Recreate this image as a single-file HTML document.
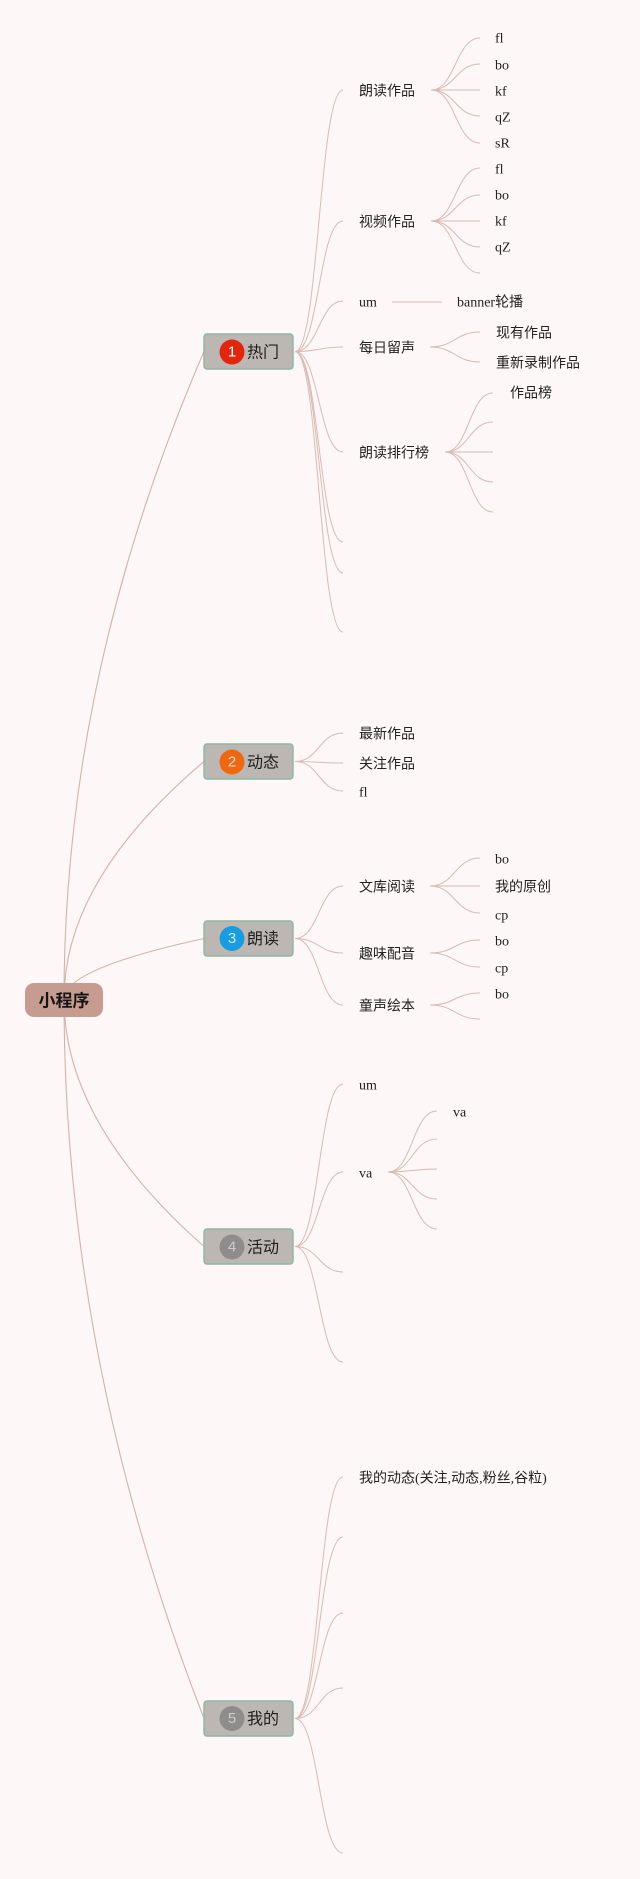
<!DOCTYPE html>
<html><head><meta charset="utf-8">
<style>
html,body{margin:0;padding:0;background:#fdf7f7;}
svg{display:block;}
.l{font-family:"Liberation Serif","Noto Sans CJK SC",serif;font-size:14px;fill:#222;}
.m{font-family:"Liberation Sans","Noto Sans CJK SC",sans-serif;font-size:16px;fill:#1e1e1e;}
.n{font-family:"Liberation Sans",sans-serif;font-size:15px;text-anchor:middle;}
.c{fill:none;stroke:#d8bab4;stroke-width:1;}
.r{fill:none;stroke:#d4b2aa;stroke-width:1.1;}
</style></head>
<body>
<svg width="640" height="1879" viewBox="0 0 640 1879" xmlns="http://www.w3.org/2000/svg">
<rect width="640" height="1879" fill="#fdf7f7"/>

<!-- root connectors -->
<path class="r" d="M64 999 Q64 675 204 351.5"/>
<path class="r" d="M64 999 Q64 880 204 761.5"/>
<path class="r" d="M64 999 Q64 969 204 938.5"/>
<path class="r" d="M64 999 Q64 1123 204 1246.5"/>
<path class="r" d="M64 999 Q64 1359 204 1718.5"/>

<!-- 热门 children -->
<path class="c" d="M295 351.5 C319 351.5 319 90 343 90"/>
<path class="c" d="M295 351.5 C319 351.5 319 221 343 221"/>
<path class="c" d="M295 351.5 C319 351.5 319 301 343 301"/>
<path class="c" d="M295 351.5 C319 351.5 319 347 343 347"/>
<path class="c" d="M295 351.5 C319 351.5 319 452 343 452"/>
<path class="c" d="M295 351.5 C319 351.5 319 542 343 542"/>
<path class="c" d="M295 351.5 C319 351.5 319 573 343 573"/>
<path class="c" d="M295 351.5 C319 351.5 319 632 343 632"/>

<!-- 动态 children -->
<path class="c" d="M295 761.5 C319 761.5 319 733 343 733"/>
<path class="c" d="M295 761.5 C319 761.5 319 763 343 763"/>
<path class="c" d="M295 761.5 C319 761.5 319 791 343 791"/>

<!-- 朗读 children -->
<path class="c" d="M295 938.5 C319 938.5 319 886 343 886"/>
<path class="c" d="M295 938.5 C319 938.5 319 953 343 953"/>
<path class="c" d="M295 938.5 C319 938.5 319 1005 343 1005"/>

<!-- 活动 children -->
<path class="c" d="M295 1246.5 C319 1246.5 319 1084 343 1084"/>
<path class="c" d="M295 1246.5 C319 1246.5 319 1172 343 1172"/>
<path class="c" d="M295 1246.5 C319 1246.5 319 1272 343 1272"/>
<path class="c" d="M295 1246.5 C319 1246.5 319 1362 343 1362"/>

<!-- 我的 children -->
<path class="c" d="M295 1718.5 C319 1718.5 319 1477 343 1477"/>
<path class="c" d="M295 1718.5 C319 1718.5 319 1537 343 1537"/>
<path class="c" d="M295 1718.5 C319 1718.5 319 1613 343 1613"/>
<path class="c" d="M295 1718.5 C319 1718.5 319 1688 343 1688"/>
<path class="c" d="M295 1718.5 C319 1718.5 319 1853 343 1853"/>

<!-- level 3: 朗读作品 -->
<path class="c" d="M431 90 C455.5 90 455.5 38 480 38"/>
<path class="c" d="M431 90 C455.5 90 455.5 64 480 64"/>
<path class="c" d="M431 90 C455.5 90 455.5 90 480 90"/>
<path class="c" d="M431 90 C455.5 90 455.5 116 480 116"/>
<path class="c" d="M431 90 C455.5 90 455.5 143 480 143"/>
<!-- 视频作品 -->
<path class="c" d="M431 221 C455.5 221 455.5 168 480 168"/>
<path class="c" d="M431 221 C455.5 221 455.5 195 480 195"/>
<path class="c" d="M431 221 C455.5 221 455.5 221 480 221"/>
<path class="c" d="M431 221 C455.5 221 455.5 247 480 247"/>
<path class="c" d="M431 221 C455.5 221 455.5 273 480 273"/>
<!-- um -> banner -->
<path class="c" d="M392 302 L442 302"/>
<!-- 每日留声 -->
<path class="c" d="M430 347 C455 347 455 332 480 332"/>
<path class="c" d="M430 347 C455 347 455 362 480 362"/>
<!-- 朗读排行榜 -->
<path class="c" d="M445 452 C469 452 469 393 493 393"/>
<path class="c" d="M445 452 C469 452 469 422 493 422"/>
<path class="c" d="M445 452 C469 452 469 452 493 452"/>
<path class="c" d="M445 452 C469 452 469 482 493 482"/>
<path class="c" d="M445 452 C469 452 469 512 493 512"/>
<!-- 文库阅读 -->
<path class="c" d="M430 886 C455 886 455 858 480 858"/>
<path class="c" d="M430 886 C455 886 455 886 480 886"/>
<path class="c" d="M430 886 C455 886 455 913 480 913"/>
<!-- 趣味配音 -->
<path class="c" d="M430 953 C455 953 455 940 480 940"/>
<path class="c" d="M430 953 C455 953 455 967 480 967"/>
<!-- 童声绘本 -->
<path class="c" d="M430 1005 C455 1005 455 993 480 993"/>
<path class="c" d="M430 1005 C455 1005 455 1019 480 1019"/>
<!-- va -->
<path class="c" d="M388 1172 C412.5 1172 412.5 1111 437 1111"/>
<path class="c" d="M388 1172 C412.5 1172 412.5 1139 437 1139"/>
<path class="c" d="M388 1172 C412.5 1172 412.5 1169 437 1169"/>
<path class="c" d="M388 1172 C412.5 1172 412.5 1199 437 1199"/>
<path class="c" d="M388 1172 C412.5 1172 412.5 1229 437 1229"/>

<!-- root node -->
<rect x="25" y="983" width="78" height="34" rx="9" fill="#c69c91"/>
<text x="64" y="1001" text-anchor="middle" dominant-baseline="central" style="font-family:'Liberation Sans','Noto Sans CJK SC',sans-serif;font-size:17px;font-weight:bold;fill:#151515">小程序</text>

<!-- main nodes -->
<g>
<rect x="204" y="334" width="89" height="35" rx="3" fill="#bdb7b3" stroke="#8fb5a4" stroke-width="1.4"/>
<circle cx="232" cy="352" r="12.5" fill="#e2260e"/>
<text class="n" x="232" y="352" dominant-baseline="central" fill="#ffffff">1</text>
<text class="m" x="247" y="353" dominant-baseline="central">热门</text>
</g>
<g>
<rect x="204" y="744" width="89" height="35" rx="3" fill="#bdb7b3" stroke="#8fb5a4" stroke-width="1.4"/>
<circle cx="232" cy="762" r="12.5" fill="#ee6812"/>
<text class="n" x="232" y="762" dominant-baseline="central" fill="#f6d9c6">2</text>
<text class="m" x="247" y="763" dominant-baseline="central">动态</text>
</g>
<g>
<rect x="204" y="921" width="89" height="35" rx="3" fill="#bdb7b3" stroke="#8fb5a4" stroke-width="1.4"/>
<circle cx="232" cy="938.5" r="12.5" fill="#1a9de0"/>
<text class="n" x="232" y="938.5" dominant-baseline="central" fill="#cfe9f7">3</text>
<text class="m" x="247" y="939.5" dominant-baseline="central">朗读</text>
</g>
<g>
<rect x="204" y="1229" width="89" height="35" rx="3" fill="#bdb7b3" stroke="#8fb5a4" stroke-width="1.4"/>
<circle cx="232" cy="1247" r="12.5" fill="#8f8d8b"/>
<text class="n" x="232" y="1247" dominant-baseline="central" fill="#cfcccb">4</text>
<text class="m" x="247" y="1248" dominant-baseline="central">活动</text>
</g>
<g>
<rect x="204" y="1701" width="89" height="35" rx="3" fill="#bdb7b3" stroke="#8fb5a4" stroke-width="1.4"/>
<circle cx="232" cy="1718.5" r="12.5" fill="#8f8d8b"/>
<text class="n" x="232" y="1718.5" dominant-baseline="central" fill="#cfcccb">5</text>
<text class="m" x="247" y="1719.5" dominant-baseline="central">我的</text>
</g>

<!-- level 2 labels -->
<g class="l" dominant-baseline="central">
<text x="359" y="92">朗读作品</text>
<text x="359" y="223">视频作品</text>
<text x="359" y="303">um</text>
<text x="359" y="349">每日留声</text>
<text x="359" y="454">朗读排行榜</text>
<text x="359" y="735">最新作品</text>
<text x="359" y="765">关注作品</text>
<text x="359" y="793">fl</text>
<text x="359" y="888">文库阅读</text>
<text x="359" y="955">趣味配音</text>
<text x="359" y="1007">童声绘本</text>
<text x="359" y="1086">um</text>
<text x="359" y="1174">va</text>
<text x="359" y="1479">我的动态(关注,动态,粉丝,谷粒)</text>
</g>

<!-- level 3 labels -->
<g class="l" dominant-baseline="central">
<text x="495" y="39">fl</text>
<text x="495" y="66">bo</text>
<text x="495" y="92">kf</text>
<text x="495" y="118">qZ</text>
<text x="495" y="144">sR</text>
<text x="495" y="170">fl</text>
<text x="495" y="196">bo</text>
<text x="495" y="222">kf</text>
<text x="495" y="248">qZ</text>
<text x="457" y="303">banner轮播</text>
<text x="496" y="334">现有作品</text>
<text x="496" y="364">重新录制作品</text>
<text x="510" y="394">作品榜</text>
<text x="495" y="860">bo</text>
<text x="495" y="888">我的原创</text>
<text x="495" y="916">cp</text>
<text x="495" y="942">bo</text>
<text x="495" y="969">cp</text>
<text x="495" y="995">bo</text>
<text x="453" y="1113">va</text>
</g>
</svg>
</body></html>
